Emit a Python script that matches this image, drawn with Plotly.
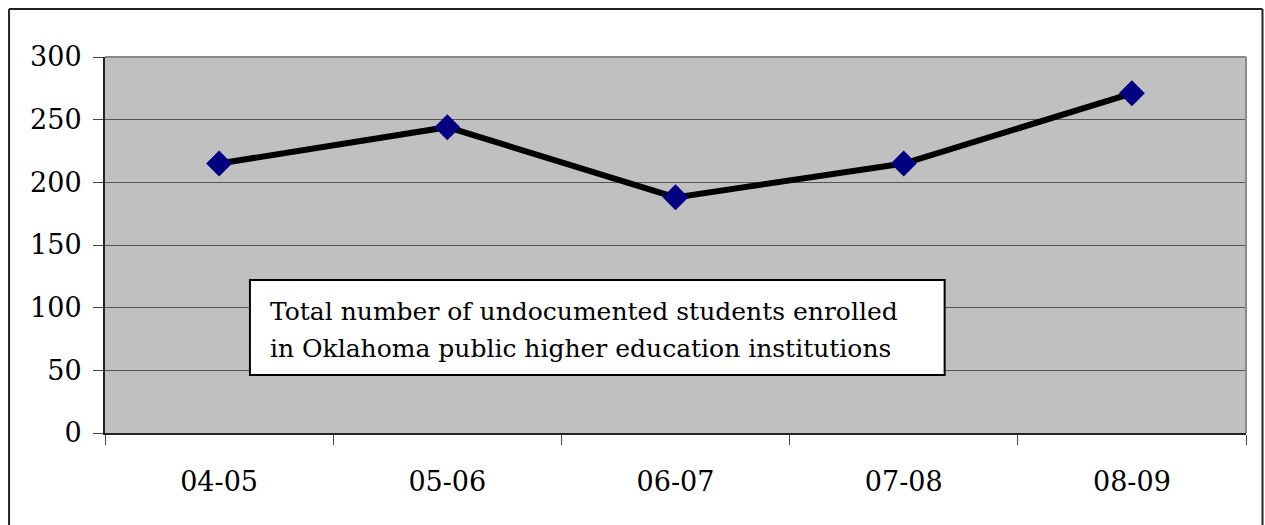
import plotly.graph_objects as go

# Enrollment of undocumented students by academic year
years = ["04-05", "05-06", "06-07", "07-08", "08-09"]
students = [215, 244, 188, 215, 271]

y_ticks = [0, 50, 100, 150, 200, 250, 300]

caption_lines = [
    "Total number of undocumented students enrolled",
    "in Oklahoma public higher education institutions",
]

W, H = 1265, 525
L, R, T, B = 105, 1246.5, 57, 433
plot_w, plot_h = R - L, B - T

def px_to_paper_x(px):
    return (px - L) / plot_w

def px_to_paper_y(py):
    return (B - py) / plot_h

FONT = "DejaVu Serif"

fig = go.Figure()
fig.add_trace(go.Scatter(
    x=years,
    y=students,
    mode="lines+markers",
    line=dict(color="black", width=6),
    marker=dict(symbol="diamond", size=20, color="#000080",
                line=dict(width=0)),
    showlegend=False,
    hoverinfo="x+y",
))

fig.update_layout(
    width=W, height=H,
    margin=dict(l=L, r=W - R, t=T, b=H - B, pad=0),
    paper_bgcolor="white",
    plot_bgcolor="#C0C0C0",
    font=dict(family=FONT, size=27, color="black"),
    showlegend=False,
)

fig.update_xaxes(
    type="category",
    range=[-0.5, 4.5],
    showgrid=False,
    showline=True, linecolor="#222222", linewidth=2,
    ticks="outside", ticklen=10, tickwidth=1, tickcolor="#444444",
    tickson="boundaries",
    ticklabelstandoff=24,
    tickfont=dict(family=FONT, size=27, color="black"),
    zeroline=False,
)

fig.update_yaxes(
    range=[0, 300],
    tickvals=y_ticks,
    ticktext=[str(v) for v in y_ticks],
    showgrid=True, gridcolor="#555555", gridwidth=1,
    showline=True, linecolor="#222222", linewidth=2,
    ticks="outside", ticklen=10, tickwidth=1, tickcolor="#444444",
    ticklabelstandoff=6,
    tickfont=dict(family=FONT, size=27, color="black"),
    zeroline=False,
)

# gray frame on the top and right of the plotting area
fig.add_shape(type="line", xref="paper", yref="paper",
              x0=0, x1=1, y0=1, y1=1,
              line=dict(color="#8A8A8A", width=2))
fig.add_shape(type="line", xref="paper", yref="paper",
              x0=1, x1=1, y0=0, y1=1,
              line=dict(color="#8A8A8A", width=2))

# outer chart border (left, top, right)
ox0, ox1, oy0, oy1 = 9, 1263, 9, 530
for (xa, ya, xb, yb) in [(ox0, oy1, ox0, oy0), (ox0, oy0, ox1, oy0),
                         (ox1, oy1, ox1, oy0)]:
    fig.add_shape(type="line", xref="paper", yref="paper",
                  x0=px_to_paper_x(xa), x1=px_to_paper_x(xb),
                  y0=px_to_paper_y(ya), y1=px_to_paper_y(yb),
                  line=dict(color="#222222", width=2))

# caption box inside the plot
fig.add_shape(type="rect", xref="paper", yref="paper",
              x0=px_to_paper_x(250), x1=px_to_paper_x(945),
              y0=px_to_paper_y(375), y1=px_to_paper_y(280),
              fillcolor="white", line=dict(color="black", width=2),
              layer="above")
for line_text, line_y in zip(caption_lines, [311, 348]):
    fig.add_annotation(
        xref="paper", yref="paper",
        x=px_to_paper_x(268), y=px_to_paper_y(line_y),
        xanchor="left", yanchor="middle",
        text=line_text,
        showarrow=False,
        align="left",
        font=dict(family=FONT, size=25, color="black"),
    )

fig.write_html("out.html")
